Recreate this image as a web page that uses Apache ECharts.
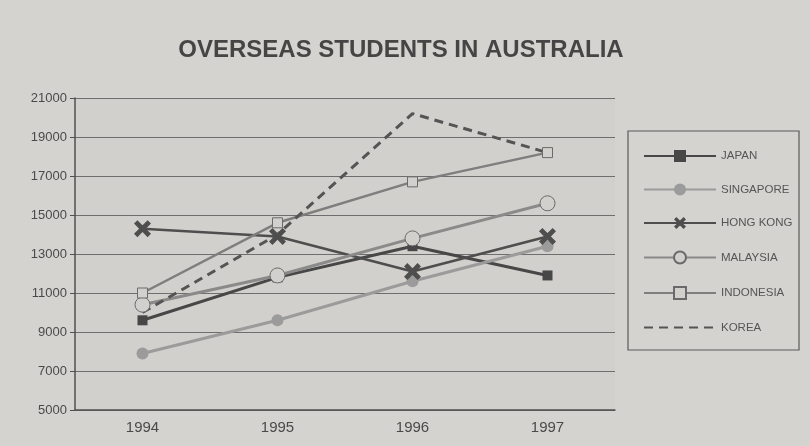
<!DOCTYPE html>
<html>
<head>
<meta charset="utf-8">
<script src="https://cdn.jsdelivr.net/npm/echarts@6/dist/echarts.min.js"></script>
<style>
html,body{margin:0;padding:0;background:#d5d3cf;}
#c{width:810px;height:446px;}
</style>
</head>
<body>
<div id="c"></div>
<script>
const years = ['1994', '1995', '1996', '1997'];
const japan = [9600, 11800, 13400, 11900];
const singapore = [7900, 9600, 11600, 13400];
const hongKong = [14300, 13900, 12100, 13900];
const malaysia = [10400, 11900, 13800, 15600];
const indonesia = [11000, 14600, 16700, 18200];
const korea = [10000, 14000, 20200, 18200];
const seriesNames = ['JAPAN', 'SINGAPORE', 'HONG KONG', 'MALAYSIA', 'INDONESIA', 'KOREA'];
const titleText = 'OVERSEAS STUDENTS IN AUSTRALIA';

const bg = '#d5d3cf';
const xPath = 'path://M2,0 L5,3 L8,0 L10,2 L7,5 L10,8 L8,10 L5,7 L2,10 L0,8 L3,5 L0,2 Z';

const chart = echarts.init(document.getElementById('c'), null, {renderer: 'canvas'});
chart.setOption({
  backgroundColor: bg,
  animation: false,
  title: {
    text: titleText,
    left: 396, top: 33, textAlign: 'center',
    textStyle: {fontFamily: 'Liberation Sans, Arial, sans-serif', fontWeight: 'bold', fontSize: 24, color: '#454545'}
  },
  grid: {left: 75, right: 195, top: 98, bottom: 36, show: true, backgroundColor: '#d2d0cc', borderWidth: 0},
  graphic: [{
    type: 'rect', shape: {x: 628, y: 131, width: 171, height: 219},
    style: {fill: 'none', stroke: '#5a5a5a', lineWidth: 1.2}, z: 0
  }],
  legend: {
    orient: 'vertical', left: 638, top: 145,
    itemWidth: 72, itemHeight: 15, itemGap: 21.5,
    data: seriesNames.map(n => n === 'KOREA' ? {name: n, itemStyle: {opacity: 0}} : {name: n}),
    textStyle: {fontFamily: 'Liberation Sans Narrow, Liberation Sans, sans-serif', fontSize: 11.5, color: '#555'}
  },
  xAxis: {
    type: 'category', data: years, boundaryGap: true,
    axisLine: {lineStyle: {color: '#505050', width: 1.5}},
    axisTick: {inside: true, length: 8, lineStyle: {color: '#505050'}},
    axisLabel: {fontFamily: 'Liberation Sans, sans-serif', fontSize: 15, color: '#4a4a4a', margin: 10}
  },
  yAxis: {
    type: 'value', min: 5000, max: 21000, interval: 2000,
    axisLine: {show: true, lineStyle: {color: '#505050', width: 1.5}},
    axisTick: {show: true, length: 5, lineStyle: {color: '#505050'}},
    splitLine: {lineStyle: {color: '#6e6e6e', width: 1}},
    axisLabel: {fontFamily: 'Liberation Sans, sans-serif', fontSize: 13, color: '#4a4a4a', margin: 8,
      formatter: v => String(v)}
  },
  series: [
    {name: 'JAPAN', type: 'line', data: japan, symbol: 'rect', symbolSize: 10,
      lineStyle: {color: '#474747', width: 3}, itemStyle: {color: '#474747'}},
    {name: 'SINGAPORE', type: 'line', data: singapore, symbol: 'circle', symbolSize: 12,
      lineStyle: {color: '#9b9b9b', width: 3}, itemStyle: {color: '#9b9b9b'}},
    {name: 'HONG KONG', type: 'line', data: hongKong, symbol: xPath, symbolSize: 17,
      lineStyle: {color: '#4e4e4e', width: 2.5}, itemStyle: {color: '#4e4e4e'}},
    {name: 'MALAYSIA', type: 'line', data: malaysia, symbol: 'circle', symbolSize: 15,
      lineStyle: {color: '#8a8a8a', width: 3}, itemStyle: {color: '#d2d0cc', borderColor: '#6a6a6a', borderWidth: 1}},
    {name: 'INDONESIA', type: 'line', data: indonesia, symbol: 'rect', symbolSize: 10,
      lineStyle: {color: '#7e7e7e', width: 2.5}, itemStyle: {color: '#d2d0cc', borderColor: '#6a6a6a', borderWidth: 1}},
    {name: 'KOREA', type: 'line', data: korea, symbol: 'none',
      lineStyle: {color: '#545454', width: 3, type: [9, 6]}, itemStyle: {color: '#545454'}}
  ]
});
</script>
</body>
</html>
